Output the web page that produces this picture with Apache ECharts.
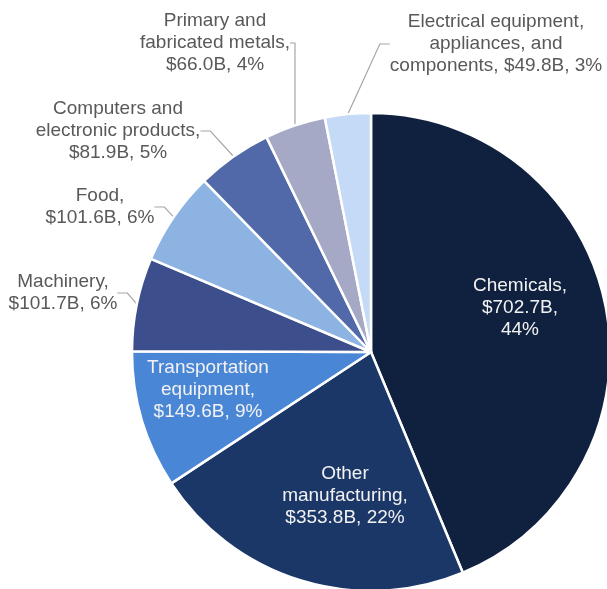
<!DOCTYPE html>
<html><head><meta charset="utf-8">
<script src="https://cdn.jsdelivr.net/npm/echarts@6/dist/echarts.min.js"></script>
<style>html,body{margin:0;padding:0;background:#fff}#c{width:607px;height:589px}</style>
</head><body><div id="c"></div>
<script>
const categories = ["Chemicals", "Other manufacturing", "Transportation equipment", "Machinery", "Food", "Computers and electronic products", "Primary and fabricated metals", "Electrical equipment, appliances, and components"];
const labelTexts = ["Chemicals,\n$702.7B,\n44%", "Other\nmanufacturing,\n$353.8B, 22%", "Transportation\nequipment,\n$149.6B, 9%", "Machinery,\n$101.7B, 6%", "Food,\n$101.6B, 6%", "Computers and\nelectronic products,\n$81.9B, 5%", "Primary and\nfabricated metals,\n$66.0B, 4%", "Electrical equipment,\nappliances, and\ncomponents, $49.8B, 3%"];
const values = [702.7, 353.8, 149.6, 101.7, 101.6, 81.9, 66.0, 49.8];
const colors = ["#10213f", "#1b3768", "#4a86d6", "#3c4f8c", "#8db3e2", "#5169a8", "#a6a9c6", "#c5daf6"];
const inside = [true, true, true, false, false, false, false, false];
// label centre positions (layout only)
const labelPos = [[520, 308], [345, 496], [208, 390], [63, 293], [100, 207], [118, 131], [215, 43], [496, 44]];

const chart = echarts.init(document.getElementById('c'));
chart.setOption({
  animation: false,
  series: [{
    type: 'pie',
    center: [371, 352],
    radius: 239,
    startAngle: 90,
    clockwise: true,
    avoidLabelOverlap: false,
    itemStyle: { borderColor: '#fff', borderWidth: 2.5 },
    label: {
      fontFamily: 'Liberation Sans, Arial, sans-serif',
      fontSize: 19,
      lineHeight: 22,
      color: '#595959',
      align: 'center'
    },
    labelLine: { lineStyle: { color: '#a6a6a6', width: 1.2 }, length: 15, length2: 10 },
    labelLayout: function (p) {
      const pos = labelPos[p.dataIndex];
      return { x: pos[0], y: pos[1], align: 'center', verticalAlign: 'middle' };
    },
    data: values.map((v, i) => ({
      name: categories[i],
      value: v,
      itemStyle: { color: colors[i] },
      label: {
        position: inside[i] ? 'inside' : 'outside',
        formatter: labelTexts[i],
        color: inside[i] ? '#f2f2f2' : '#595959',
        align: 'center'
      },
      labelLine: { show: !inside[i] }
    }))
  }]
});
</script></body></html>
